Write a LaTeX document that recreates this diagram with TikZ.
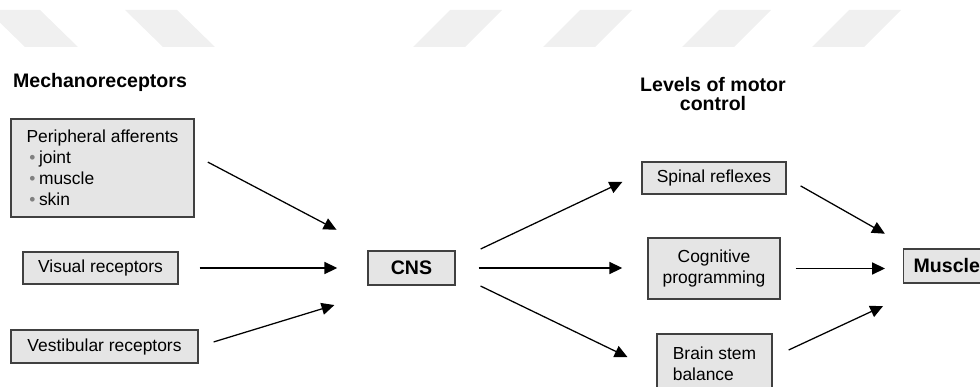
\documentclass[tikz,border=0pt]{standalone}
\usepackage{fontspec}
\setmainfont{Liberation Sans}
\usepackage{xcolor}
\usepackage{tikz}
\usetikzlibrary{arrows.meta,positioning,calc}

\newcommand{\bul}{\hspace{2pt}{\color{gray}\textbullet}\hspace{2.5pt}}

\begin{document}
\begin{tikzpicture}[
    x=0.025cm, y=-0.025cm,
    font=\fontsize{12.4}{15}\selectfont,
    box/.style={rectangle, draw=black!75, line width=1pt, fill=black!10, minimum height=0.8cm, align=center, inner sep=0pt},
    head/.style={font=\fontsize{13.9}{14.2}\selectfont\bfseries, align=center},
    arrow/.style={-{Triangle[length=0.32cm,width=0.3cm]}, line width=0.9pt},
]
\useasboundingbox (0,0) rectangle (980,387);
\clip (0,0) rectangle (980,387);

% Watermark bands
\fill[black!6] (-13,10) -- (40,10) -- (78,47) -- (25,47) -- cycle;
\fill[black!6] (125,10) -- (177,10) -- (215,47) -- (163,47) -- cycle;
\foreach \x in {413,543,682,812}
    \fill[black!6] (\x,47) -- (\x+52,47) -- (\x+89,10) -- (\x+37,10) -- cycle;

% Inputs
\node[head] (mech) at (100,82) {Mechanoreceptors};
\node[box, minimum width=4.575cm, minimum height=2.45cm, align=left] (periph) at (102.5,168)
    {Peripheral afferents\\ \bul joint\\ \bul muscle\\ \bul skin};
\node[box, minimum width=3.875cm] (visual) at (100.5,268) {Visual receptors};
\node[box, minimum width=4.675cm, minimum height=0.825cm] (vestib) at (104.5,346.5) {Vestibular receptors};

% Centre
\node[box, head, minimum width=2.175cm, minimum height=0.85cm] (cns) at (411.5,268) {CNS};

% Levels
\node[head] (levels) at (713,94) {Levels of motor\\control};
\node[box, minimum width=3.6cm] (spinal) at (714,178) {Spinal reflexes};
\node[box, minimum width=3.3cm, minimum height=1.525cm] (cogn) at (714,268.5) {Cognitive\\programming};
\node[box, minimum width=2.875cm, minimum height=1.5cm, align=left] (brain) at (714.5,364) {Brain stem\\balance};

% Output
\node[box, head, anchor=west, text width=2.5cm, align=left, inner xsep=0.25cm, minimum height=0.85cm] (muscle) at (903,266) {Muscle};

% Arrows into CNS
\draw[arrow, shorten <=0.37cm, shorten >=0.87cm] ([yshift=0.32cm]periph.east) -- ([yshift=0.55cm]cns.west);
\draw[arrow, shorten <=0.525cm, shorten >=0.75cm] (visual.east) -- (cns.west);
\draw[arrow, shorten <=0.39cm, shorten >=0.86cm] (vestib.east) -- ([yshift=-0.675cm]cns.west);

% Arrows out of CNS
\draw[arrow, shorten <=0.69cm, shorten >=0.525cm] ([yshift=0.18cm]cns.east) -- ([yshift=0.125cm]spinal.west);
\draw[arrow, shorten <=0.575cm, shorten >=0.625cm] (cns.east) -- (cns.east -| cogn.west);
\draw[arrow, shorten <=0.69cm, shorten >=0.8cm] ([yshift=-0.15cm]cns.east) -- ([yshift=-0.175cm]brain.west);

% Arrows to muscle
\draw[arrow, shorten <=0.4cm, shorten >=0.52cm] (spinal.east) -- ([yshift=0.55cm]muscle.west);
\draw[arrow, shorten <=0.375cm, shorten >=0.45cm] (cogn.east) -- (cogn.east -| muscle.west);
\draw[arrow, shorten <=0.44cm, shorten >=0.55cm] ([yshift=0.165cm]brain.east) -- ([yshift=-0.77cm]muscle.west);

\end{tikzpicture}
\end{document}
